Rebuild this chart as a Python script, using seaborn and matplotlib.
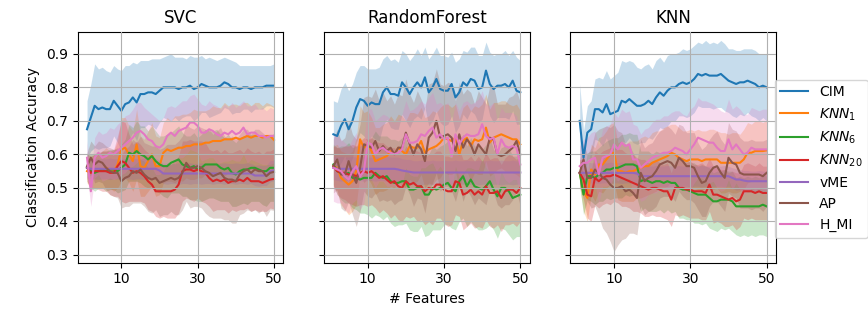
import numpy as np
import pandas as pd
import matplotlib
matplotlib.use("Agg")
import matplotlib.pyplot as plt
import seaborn as sns

features = list(range(1, 51))
methods = ["CIM", "$KNN_1$", "$KNN_6$", "$KNN_{20}$", "vME", "AP", "H_MI"]
panel_titles = ["SVC", "RandomForest", "KNN"]
x_ticks = [10, 30, 50]
y_ticks = [0.3, 0.4, 0.5, 0.6, 0.7, 0.8, 0.9]

# ---------------- SVC ----------------
svc_cim = [0.675,0.71,0.745,0.735,0.74,0.735,0.735,0.76,0.745,0.73,
 0.75,0.755,0.77,0.755,0.78,0.78,0.785,0.785,0.78,0.79,
 0.80,0.80,0.80,0.80,0.795,0.80,0.80,0.805,0.795,0.80,
 0.81,0.805,0.80,0.80,0.80,0.805,0.815,0.81,0.80,0.80,
 0.795,0.80,0.80,0.795,0.80,0.80,0.80,0.805,0.805,0.805]
svc_knn1 = [0.55,0.545,0.55,0.55,0.555,0.56,0.555,0.55,0.57,0.615,
 0.62,0.60,0.58,0.63,0.565,0.56,0.58,0.60,0.565,0.565,
 0.605,0.615,0.61,0.615,0.62,0.62,0.625,0.625,0.63,0.63,
 0.63,0.635,0.635,0.64,0.64,0.64,0.645,0.645,0.645,0.65,
 0.645,0.65,0.655,0.65,0.655,0.655,0.65,0.655,0.655,0.643]
svc_knn6 = [0.56,0.55,0.545,0.55,0.555,0.55,0.555,0.555,0.55,0.56,
 0.57,0.605,0.60,0.61,0.60,0.595,0.585,0.595,0.58,0.57,
 0.565,0.565,0.575,0.58,0.585,0.57,0.565,0.56,0.565,0.555,
 0.56,0.57,0.57,0.57,0.57,0.56,0.555,0.56,0.545,0.54,
 0.55,0.555,0.555,0.56,0.56,0.555,0.55,0.55,0.56,0.56]
svc_knn20 = [0.56,0.545,0.55,0.55,0.55,0.55,0.545,0.545,0.565,0.58,
 0.575,0.56,0.545,0.55,0.545,0.535,0.52,0.51,0.49,0.49,
 0.49,0.49,0.49,0.495,0.51,0.55,0.555,0.555,0.55,0.555,
 0.55,0.545,0.53,0.52,0.525,0.52,0.525,0.515,0.52,0.52,
 0.525,0.52,0.53,0.52,0.52,0.52,0.515,0.52,0.525,0.527]
svc_vme = [0.56,0.557,0.557,0.557,0.557,0.557,0.557,0.557,0.557,0.557,
 0.557,0.557,0.557,0.557,0.557,0.557,0.557,0.557,0.557,0.552,
 0.543,0.543,0.543,0.543,0.543,0.543,0.543,0.543,0.543,0.543,
 0.543,0.543,0.543,0.543,0.543,0.543,0.543,0.543,0.543,0.543,
 0.543,0.543,0.543,0.543,0.537,0.537,0.537,0.537,0.55,0.552]
svc_ap = [0.565,0.59,0.57,0.58,0.575,0.56,0.55,0.545,0.545,0.52,
 0.53,0.535,0.55,0.545,0.555,0.54,0.53,0.525,0.53,0.515,
 0.52,0.525,0.53,0.525,0.53,0.545,0.575,0.56,0.56,0.565,
 0.56,0.55,0.545,0.535,0.54,0.545,0.53,0.525,0.525,0.52,
 0.54,0.55,0.555,0.545,0.555,0.55,0.55,0.535,0.545,0.548]
svc_hmi = [0.59,0.49,0.59,0.605,0.59,0.595,0.605,0.60,0.61,0.62,
 0.63,0.64,0.65,0.665,0.67,0.66,0.645,0.64,0.625,0.62,
 0.63,0.655,0.665,0.655,0.67,0.675,0.68,0.695,0.695,0.685,
 0.665,0.665,0.675,0.67,0.66,0.655,0.665,0.66,0.67,0.66,
 0.665,0.68,0.66,0.665,0.665,0.655,0.655,0.65,0.655,0.655]

svc_cim_hw = [0.085,0.10,0.125,0.12,0.12,0.115,0.11,0.105,0.11,0.12,
 0.115,0.11,0.105,0.115,0.10,0.10,0.095,0.10,0.105,0.095,
 0.09,0.095,0.10,0.09,0.095,0.09,0.085,0.09,0.095,0.09,
 0.085,0.08,0.09,0.085,0.08,0.08,0.075,0.075,0.08,0.075,
 0.07,0.065,0.065,0.07,0.065,0.065,0.065,0.06,0.06,0.065]
svc_knn1_hw = [0.035,0.045,0.05,0.05,0.055,0.06,0.055,0.06,0.07,0.095,
 0.09,0.085,0.09,0.105,0.09,0.085,0.09,0.095,0.09,0.085,
 0.09,0.095,0.09,0.10,0.095,0.10,0.095,0.10,0.105,0.10,
 0.10,0.095,0.10,0.105,0.10,0.10,0.11,0.10,0.105,0.10,
 0.10,0.105,0.10,0.095,0.10,0.10,0.095,0.10,0.095,0.10]
svc_knn6_hw = [0.04,0.05,0.055,0.05,0.055,0.06,0.06,0.06,0.065,0.07,
 0.075,0.085,0.08,0.09,0.085,0.09,0.085,0.09,0.09,0.085,
 0.09,0.095,0.09,0.095,0.10,0.095,0.09,0.095,0.10,0.095,
 0.10,0.105,0.10,0.10,0.105,0.10,0.095,0.10,0.10,0.095,
 0.10,0.10,0.105,0.10,0.10,0.095,0.10,0.105,0.10,0.10]
svc_knn20_hw = [0.04,0.05,0.05,0.055,0.06,0.06,0.065,0.07,0.09,0.12,
 0.12,0.10,0.085,0.09,0.085,0.08,0.085,0.08,0.075,0.08,
 0.075,0.08,0.08,0.085,0.085,0.09,0.085,0.09,0.09,0.085,
 0.09,0.09,0.085,0.09,0.09,0.085,0.09,0.09,0.085,0.09,
 0.09,0.085,0.09,0.09,0.085,0.09,0.085,0.09,0.085,0.09]
svc_vme_hw = [0.03,0.03,0.03,0.032,0.03,0.03,0.032,0.03,0.03,0.032,
 0.03,0.03,0.032,0.03,0.03,0.032,0.03,0.03,0.032,0.03,
 0.03,0.032,0.03,0.03,0.032,0.03,0.03,0.032,0.03,0.03,
 0.032,0.03,0.03,0.032,0.03,0.03,0.032,0.03,0.03,0.032,
 0.03,0.03,0.032,0.03,0.03,0.032,0.03,0.03,0.032,0.03]
svc_ap_hw = [0.04,0.05,0.055,0.06,0.06,0.065,0.07,0.07,0.075,0.08,
 0.085,0.09,0.095,0.09,0.10,0.095,0.10,0.10,0.095,0.10,
 0.10,0.105,0.10,0.105,0.11,0.11,0.115,0.12,0.115,0.12,
 0.12,0.125,0.13,0.125,0.13,0.135,0.125,0.12,0.13,0.125,
 0.12,0.125,0.12,0.115,0.12,0.125,0.115,0.12,0.11,0.115]
svc_hmi_hw = [0.05,0.045,0.06,0.065,0.07,0.07,0.075,0.075,0.08,0.08,
 0.085,0.08,0.085,0.09,0.085,0.08,0.085,0.08,0.085,0.08,
 0.08,0.085,0.08,0.085,0.08,0.085,0.08,0.08,0.085,0.08,
 0.085,0.08,0.085,0.08,0.085,0.08,0.085,0.08,0.085,0.08,
 0.085,0.08,0.085,0.08,0.085,0.08,0.085,0.08,0.085,0.08]

# ---------------- RandomForest ----------------
rf_cim = [0.66,0.655,0.685,0.705,0.675,0.70,0.74,0.765,0.76,0.745,
 0.755,0.75,0.75,0.785,0.80,0.78,0.78,0.775,0.815,0.80,
 0.78,0.80,0.815,0.80,0.83,0.785,0.80,0.825,0.795,0.79,
 0.79,0.81,0.77,0.785,0.815,0.805,0.825,0.82,0.795,0.80,
 0.85,0.81,0.795,0.805,0.805,0.81,0.80,0.82,0.79,0.785]
rf_knn1 = [0.565,0.56,0.53,0.52,0.51,0.52,0.55,0.645,0.62,0.63,
 0.61,0.58,0.585,0.59,0.595,0.61,0.60,0.62,0.61,0.60,
 0.625,0.62,0.62,0.64,0.605,0.615,0.62,0.625,0.635,0.65,
 0.645,0.64,0.65,0.60,0.64,0.65,0.625,0.645,0.64,0.645,
 0.68,0.635,0.65,0.655,0.66,0.655,0.65,0.645,0.645,0.63]
rf_knn6 = [0.57,0.55,0.545,0.54,0.545,0.53,0.53,0.525,0.53,0.53,
 0.53,0.545,0.535,0.53,0.535,0.52,0.515,0.515,0.52,0.52,
 0.495,0.495,0.50,0.505,0.48,0.48,0.50,0.495,0.50,0.51,
 0.515,0.50,0.49,0.52,0.535,0.505,0.525,0.505,0.50,0.495,
 0.505,0.52,0.495,0.475,0.50,0.50,0.49,0.47,0.475,0.48]
rf_knn20 = [0.565,0.55,0.545,0.545,0.54,0.54,0.535,0.545,0.55,0.545,
 0.55,0.54,0.53,0.535,0.525,0.515,0.52,0.505,0.50,0.52,
 0.51,0.515,0.505,0.505,0.49,0.50,0.495,0.51,0.51,0.495,
 0.49,0.49,0.52,0.515,0.48,0.485,0.495,0.48,0.49,0.48,
 0.505,0.485,0.485,0.49,0.47,0.49,0.495,0.495,0.485,0.50]
rf_vme = [0.56,0.557,0.557,0.557,0.557,0.557,0.557,0.557,0.557,0.557,
 0.557,0.557,0.557,0.557,0.557,0.557,0.557,0.555,0.552,0.55,
 0.548,0.546,0.546,0.546,0.546,0.546,0.546,0.546,0.546,0.546,
 0.546,0.546,0.546,0.546,0.546,0.546,0.546,0.546,0.546,0.546,
 0.546,0.546,0.546,0.546,0.546,0.546,0.546,0.546,0.546,0.546]
rf_ap = [0.565,0.585,0.54,0.54,0.58,0.54,0.515,0.56,0.63,0.625,
 0.62,0.64,0.61,0.625,0.61,0.62,0.60,0.62,0.62,0.665,
 0.63,0.60,0.63,0.615,0.58,0.65,0.665,0.70,0.65,0.655,
 0.66,0.65,0.61,0.66,0.62,0.645,0.63,0.60,0.63,0.615,
 0.60,0.65,0.645,0.60,0.595,0.60,0.61,0.62,0.64,0.60]
rf_hmi = [0.56,0.555,0.55,0.535,0.525,0.55,0.565,0.535,0.55,0.635,
 0.63,0.60,0.615,0.62,0.61,0.605,0.60,0.605,0.615,0.66,
 0.635,0.635,0.64,0.66,0.655,0.67,0.68,0.65,0.66,0.645,
 0.65,0.595,0.66,0.63,0.65,0.66,0.655,0.655,0.66,0.69,
 0.655,0.645,0.65,0.60,0.645,0.625,0.62,0.625,0.62,0.57]

rf_cim_hw = [0.10,0.10,0.11,0.11,0.115,0.11,0.105,0.10,0.105,0.11,
 0.10,0.105,0.11,0.10,0.095,0.10,0.105,0.10,0.095,0.10,
 0.10,0.095,0.10,0.095,0.09,0.10,0.10,0.095,0.10,0.105,
 0.10,0.095,0.105,0.10,0.095,0.10,0.095,0.10,0.10,0.095,
 0.085,0.095,0.10,0.095,0.095,0.10,0.095,0.09,0.10,0.095]
rf_knn1_hw = [0.06,0.07,0.08,0.085,0.09,0.09,0.10,0.10,0.105,0.10,
 0.10,0.10,0.095,0.10,0.10,0.105,0.10,0.10,0.105,0.10,
 0.10,0.105,0.10,0.10,0.105,0.10,0.11,0.10,0.105,0.10,
 0.105,0.10,0.10,0.105,0.10,0.10,0.105,0.10,0.10,0.105,
 0.10,0.10,0.105,0.10,0.10,0.105,0.10,0.10,0.105,0.10]
rf_knn6_hw = [0.06,0.07,0.08,0.085,0.09,0.09,0.095,0.10,0.105,0.11,
 0.12,0.125,0.12,0.125,0.12,0.125,0.13,0.125,0.13,0.125,
 0.12,0.125,0.13,0.12,0.125,0.12,0.125,0.12,0.125,0.12,
 0.125,0.12,0.115,0.12,0.125,0.12,0.125,0.12,0.125,0.12,
 0.125,0.13,0.12,0.125,0.12,0.125,0.13,0.125,0.12,0.125]
rf_knn20_hw = [0.06,0.07,0.075,0.08,0.085,0.09,0.09,0.095,0.10,0.10,
 0.10,0.10,0.105,0.10,0.10,0.105,0.10,0.10,0.10,0.105,
 0.10,0.10,0.105,0.10,0.10,0.10,0.105,0.10,0.10,0.10,
 0.105,0.10,0.10,0.10,0.105,0.10,0.10,0.10,0.105,0.10,
 0.10,0.10,0.105,0.10,0.10,0.10,0.105,0.10,0.10,0.10]
rf_vme_hw = [0.035,0.035,0.037,0.035,0.035,0.037,0.035,0.035,0.037,0.035,
 0.035,0.037,0.035,0.035,0.037,0.035,0.035,0.037,0.035,0.035,
 0.037,0.035,0.035,0.037,0.035,0.035,0.037,0.035,0.035,0.037,
 0.035,0.035,0.037,0.035,0.035,0.037,0.035,0.035,0.037,0.035,
 0.035,0.037,0.035,0.035,0.037,0.035,0.035,0.037,0.035,0.035]
rf_ap_hw = [0.08,0.09,0.10,0.11,0.12,0.12,0.13,0.13,0.14,0.15,
 0.15,0.155,0.15,0.16,0.15,0.155,0.15,0.16,0.155,0.16,
 0.15,0.155,0.16,0.15,0.155,0.16,0.15,0.155,0.16,0.15,
 0.155,0.16,0.15,0.155,0.16,0.15,0.155,0.15,0.16,0.155,
 0.15,0.155,0.16,0.15,0.155,0.15,0.16,0.155,0.15,0.155]
rf_hmi_hw = [0.10,0.10,0.095,0.10,0.10,0.095,0.10,0.10,0.095,0.10,
 0.105,0.10,0.095,0.10,0.105,0.10,0.095,0.10,0.105,0.10,
 0.095,0.10,0.105,0.10,0.095,0.10,0.105,0.10,0.095,0.10,
 0.105,0.10,0.095,0.10,0.105,0.10,0.095,0.10,0.105,0.10,
 0.095,0.10,0.105,0.10,0.095,0.10,0.105,0.10,0.095,0.10]

# ---------------- KNN ----------------
knn_cim = [0.70,0.59,0.665,0.675,0.735,0.735,0.725,0.75,0.72,0.725,
 0.73,0.76,0.755,0.765,0.755,0.745,0.745,0.75,0.76,0.75,
 0.77,0.785,0.775,0.79,0.80,0.80,0.81,0.815,0.81,0.815,
 0.825,0.84,0.835,0.84,0.835,0.835,0.835,0.84,0.83,0.82,
 0.815,0.81,0.815,0.815,0.82,0.815,0.81,0.80,0.805,0.80]
knn_knn1 = [0.545,0.49,0.47,0.555,0.54,0.57,0.57,0.585,0.60,0.605,
 0.55,0.55,0.545,0.55,0.55,0.555,0.56,0.565,0.565,0.575,
 0.58,0.585,0.59,0.595,0.605,0.60,0.59,0.585,0.58,0.585,
 0.585,0.585,0.58,0.585,0.585,0.585,0.585,0.575,0.575,0.575,
 0.575,0.575,0.575,0.585,0.605,0.605,0.61,0.61,0.61,0.612]
knn_knn6 = [0.545,0.48,0.535,0.535,0.53,0.54,0.545,0.555,0.555,0.56,
 0.56,0.565,0.57,0.57,0.57,0.565,0.52,0.525,0.52,0.515,
 0.52,0.52,0.515,0.52,0.515,0.515,0.50,0.495,0.495,0.49,
 0.485,0.48,0.48,0.48,0.47,0.46,0.46,0.465,0.465,0.465,
 0.46,0.445,0.445,0.445,0.445,0.445,0.445,0.445,0.45,0.445]
knn_knn20 = [0.545,0.525,0.48,0.475,0.53,0.52,0.53,0.535,0.535,0.54,
 0.535,0.53,0.525,0.52,0.515,0.51,0.505,0.50,0.495,0.50,
 0.50,0.495,0.49,0.49,0.465,0.50,0.50,0.50,0.495,0.495,
 0.49,0.49,0.49,0.485,0.51,0.48,0.48,0.475,0.47,0.465,
 0.47,0.46,0.465,0.49,0.49,0.49,0.485,0.49,0.485,0.485]
knn_vme = [0.545,0.545,0.545,0.545,0.545,0.545,0.545,0.545,0.545,0.545,
 0.545,0.545,0.545,0.545,0.545,0.543,0.535,0.535,0.535,0.535,
 0.535,0.535,0.535,0.535,0.535,0.535,0.535,0.535,0.535,0.535,
 0.535,0.535,0.535,0.535,0.535,0.535,0.535,0.535,0.535,0.535,
 0.53,0.525,0.525,0.522,0.52,0.52,0.52,0.52,0.52,0.52]
knn_ap = [0.545,0.585,0.53,0.53,0.555,0.545,0.53,0.525,0.51,0.50,
 0.50,0.505,0.49,0.495,0.485,0.47,0.545,0.52,0.53,0.535,
 0.55,0.57,0.575,0.58,0.575,0.56,0.59,0.58,0.565,0.565,
 0.56,0.535,0.515,0.52,0.545,0.56,0.565,0.545,0.53,0.59,
 0.575,0.57,0.545,0.54,0.54,0.54,0.54,0.54,0.535,0.545]
knn_hmi = [0.565,0.575,0.575,0.585,0.59,0.54,0.59,0.595,0.60,0.63,
 0.615,0.635,0.625,0.63,0.585,0.585,0.56,0.57,0.58,0.59,
 0.595,0.60,0.605,0.605,0.61,0.62,0.615,0.61,0.60,0.615,
 0.63,0.65,0.645,0.64,0.635,0.635,0.62,0.61,0.61,0.645,
 0.615,0.63,0.615,0.60,0.605,0.62,0.615,0.615,0.615,0.615]

knn_cim_hw = [0.11,0.08,0.08,0.085,0.09,0.095,0.10,0.10,0.105,0.11,
 0.115,0.12,0.12,0.115,0.12,0.115,0.11,0.115,0.11,0.105,
 0.11,0.105,0.10,0.105,0.10,0.10,0.095,0.10,0.10,0.10,
 0.10,0.095,0.095,0.10,0.095,0.10,0.095,0.10,0.10,0.095,
 0.10,0.10,0.095,0.10,0.095,0.10,0.10,0.10,0.095,0.10]
knn_knn1_hw = [0.04,0.06,0.07,0.075,0.08,0.08,0.085,0.085,0.09,0.09,
 0.085,0.09,0.085,0.09,0.09,0.085,0.09,0.09,0.085,0.09,
 0.09,0.085,0.09,0.09,0.085,0.09,0.09,0.085,0.09,0.09,
 0.085,0.09,0.09,0.085,0.09,0.09,0.085,0.09,0.09,0.085,
 0.09,0.09,0.085,0.09,0.09,0.085,0.09,0.09,0.085,0.09]
knn_knn6_hw = [0.04,0.06,0.07,0.075,0.08,0.08,0.085,0.085,0.09,0.09,
 0.09,0.095,0.09,0.095,0.09,0.095,0.09,0.085,0.09,0.085,
 0.09,0.085,0.09,0.085,0.09,0.085,0.09,0.085,0.09,0.085,
 0.09,0.085,0.09,0.085,0.09,0.085,0.09,0.085,0.09,0.085,
 0.09,0.085,0.09,0.085,0.09,0.085,0.09,0.085,0.09,0.09]
knn_knn20_hw = [0.04,0.06,0.07,0.075,0.08,0.08,0.08,0.08,0.085,0.08,
 0.08,0.085,0.08,0.08,0.085,0.08,0.08,0.085,0.08,0.08,
 0.085,0.08,0.08,0.085,0.08,0.08,0.085,0.08,0.08,0.085,
 0.08,0.08,0.085,0.08,0.08,0.085,0.08,0.08,0.085,0.08,
 0.08,0.085,0.08,0.08,0.085,0.08,0.08,0.085,0.08,0.08]
knn_vme_hw = [0.03,0.03,0.032,0.03,0.03,0.032,0.03,0.03,0.032,0.03,
 0.03,0.032,0.03,0.03,0.032,0.03,0.03,0.032,0.03,0.03,
 0.032,0.03,0.03,0.032,0.03,0.03,0.032,0.03,0.03,0.032,
 0.03,0.03,0.032,0.03,0.03,0.032,0.03,0.03,0.032,0.03,
 0.03,0.032,0.03,0.03,0.032,0.03,0.03,0.032,0.03,0.03]
knn_ap_hw = [0.04,0.05,0.07,0.09,0.11,0.13,0.15,0.16,0.17,0.19,
 0.17,0.16,0.14,0.13,0.12,0.11,0.10,0.10,0.10,0.10,
 0.105,0.10,0.10,0.105,0.10,0.10,0.10,0.105,0.10,0.10,
 0.105,0.10,0.10,0.105,0.10,0.10,0.105,0.10,0.10,0.105,
 0.10,0.10,0.105,0.10,0.10,0.105,0.10,0.10,0.105,0.10]
knn_hmi_hw = [0.06,0.07,0.075,0.08,0.08,0.085,0.085,0.09,0.09,0.095,
 0.095,0.10,0.10,0.10,0.105,0.10,0.10,0.105,0.10,0.105,
 0.11,0.105,0.11,0.11,0.115,0.11,0.115,0.11,0.115,0.12,
 0.115,0.12,0.115,0.12,0.12,0.115,0.12,0.12,0.115,0.12,
 0.12,0.115,0.12,0.12,0.115,0.12,0.12,0.115,0.12,0.12]

panels = [
    [svc_cim, svc_knn1, svc_knn6, svc_knn20, svc_vme, svc_ap, svc_hmi],
    [rf_cim, rf_knn1, rf_knn6, rf_knn20, rf_vme, rf_ap, rf_hmi],
    [knn_cim, knn_knn1, knn_knn6, knn_knn20, knn_vme, knn_ap, knn_hmi],
]
panel_hw = [
    [svc_cim_hw, svc_knn1_hw, svc_knn6_hw, svc_knn20_hw, svc_vme_hw, svc_ap_hw, svc_hmi_hw],
    [rf_cim_hw, rf_knn1_hw, rf_knn6_hw, rf_knn20_hw, rf_vme_hw, rf_ap_hw, rf_hmi_hw],
    [knn_cim_hw, knn_knn1_hw, knn_knn6_hw, knn_knn20_hw, knn_vme_hw, knn_ap_hw, knn_hmi_hw],
]

colors = sns.color_palette("tab10")[:7]

fig, axes = plt.subplots(1, 3, figsize=(8.68, 3.16), dpi=100, sharey=True)
fig.subplots_adjust(left=0.0895, right=0.894, top=0.8997, bottom=0.1687, wspace=0.198)

for ax, title, series_list, hw_list in zip(axes, panel_titles, panels, panel_hw):
    for name, vals, hw, col in zip(methods, series_list, hw_list, colors):
        df = pd.DataFrame({"Features": features, "Accuracy": vals, "hw": hw})
        sns.lineplot(data=df, x="Features", y="Accuracy", color=col, ax=ax,
                     legend=False, linewidth=1.5)
        ax.fill_between(df["Features"], df["Accuracy"] - df["hw"],
                        df["Accuracy"] + df["hw"], color=col, alpha=0.25, linewidth=0)
    ax.set_title(title, fontsize=12)
    ax.set_xticks(x_ticks)
    ax.set_yticks(y_ticks)
    ax.set_xlim(-1.45, 52.45)
    ax.set_ylim(0.277, 0.966)
    ax.grid(True, color="#b0b0b0", linewidth=0.8)
    ax.set_axisbelow(False)
    ax.set_xlabel("")
    ax.set_ylabel("")
    for s in ax.spines.values():
        s.set_color("black")
        s.set_linewidth(0.8)

axes[0].set_ylabel("Classification Accuracy", fontsize=10)
axes[1].set_xlabel("# Features", fontsize=10)

leg = axes[2].legend(handles=axes[2].lines[:7], labels=methods, loc="center left",
                     bbox_to_anchor=(0.96, 0.45), fontsize=10, framealpha=0.8)

fig.savefig("out.png", dpi=100)
